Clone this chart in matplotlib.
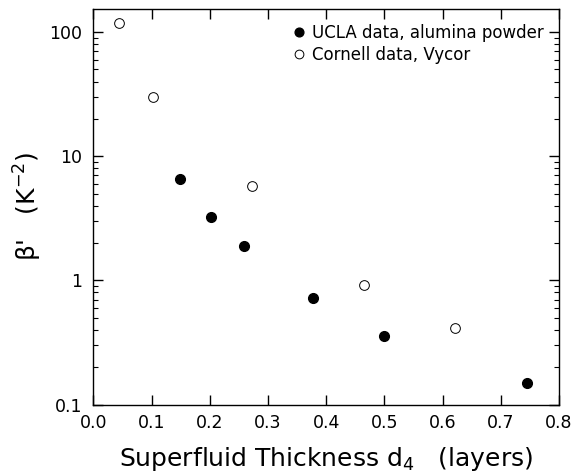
import matplotlib
matplotlib.use("Agg")
import matplotlib.pyplot as plt
from matplotlib.ticker import FixedLocator, FixedFormatter, LogLocator, NullFormatter

# UCLA data, alumina powder
ucla_d = [0.149, 0.202, 0.259, 0.377, 0.500, 0.745]
ucla_beta = [6.6, 3.27, 1.9, 0.72, 0.356, 0.150]

# Cornell data, Vycor
cornell_d = [0.044, 0.103, 0.273, 0.464, 0.621]
cornell_beta = [119, 29.8, 5.8, 0.91, 0.41]

ytick_vals = [0.1, 1, 10, 100]
ytick_labels = ["0.1", "1", "10", "100"]
xtick_vals = [0.0, 0.1, 0.2, 0.3, 0.4, 0.5, 0.6, 0.7, 0.8]

plt.rcParams['font.family'] = ['DejaVu Sans']
plt.rcParams['mathtext.fontset'] = 'dejavusans'

fig = plt.figure(figsize=(5.77, 4.74), dpi=100)
ax = fig.add_axes([0.162, 0.1466, 0.807, 0.834])

ax.plot(ucla_d, ucla_beta, 'o', color='black', markersize=7,
        label="UCLA data, alumina powder")
ax.plot(cornell_d, cornell_beta, 'o', markerfacecolor='white', markeredgecolor='black',
        markeredgewidth=0.7, markersize=7, label="Cornell data, Vycor")

ax.set_yscale('log')
ax.set_xlim(0, 0.8)
ax.set_ylim(0.1, 153)

ax.xaxis.set_major_locator(FixedLocator(xtick_vals))
ax.set_xticklabels(["%.1f" % v for v in xtick_vals])
ax.yaxis.set_major_locator(FixedLocator(ytick_vals))
ax.yaxis.set_major_formatter(FixedFormatter(ytick_labels))
ax.yaxis.set_minor_locator(LogLocator(base=10, subs=range(2, 10)))
ax.yaxis.set_minor_formatter(NullFormatter())

ax.tick_params(axis='both', which='major', direction='in', length=7, width=1,
               top=True, right=True, labelsize=12.5)
ax.tick_params(axis='x', which='major', pad=7)
ax.tick_params(axis='y', which='major', pad=8)
ax.tick_params(axis='y', which='minor', direction='in', length=3.6, width=0.8,
               right=True)
ax.tick_params(axis='x', which='minor', bottom=False, top=False)
for sp in ax.spines.values():
    sp.set_linewidth(1)

ax.set_xlabel("Superfluid Thickness d$_4$   (layers)", fontsize=18, labelpad=9)
ax.set_ylabel("β'   (K$^{-2}$)", fontsize=18, labelpad=4)

ax.legend(loc='upper right', frameon=False, fontsize=12, handletextpad=0.3,
          handlelength=1.0, borderaxespad=0.5, labelspacing=0.2,
          markerscale=0.9)

fig.savefig("out.png", dpi=100)
